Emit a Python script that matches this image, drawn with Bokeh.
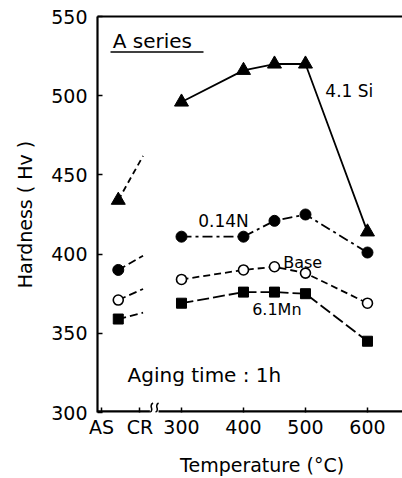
from bokeh.plotting import figure
from bokeh.models import Range1d, FixedTicker, LinearAxis, Label
from bokeh.embed import file_html
from bokeh.resources import INLINE

# ---- data ----
temps = [300, 400, 450, 500, 600]
as_x = 198          # position of the "AS" (as-solution) state on the x scale
stub_x = 238        # where the AS -> CR trend stubs end
break_x = 256

si = [496, 516, 520, 520, 414]
si_as = 434
si_cr = 462

n = [411, 411, 421, 425, 401]
n_as = 390
n_cr = 399

base = [384, 390, 392, 388, 369]
base_as = 371
base_cr = 378

mn = [369, 376, 376, 375, 345]
mn_as = 359
mn_cr = 363

tick_pos = [171, 233, 300, 400, 500, 600]
tick_lab = {171: "AS", 233: "CR"}

X0, X1, Y0, Y1 = 164.5, 656.5, 300, 550
FONT = "DejaVu Sans"

p = figure(width=402, height=478, output_backend="svg", toolbar_location=None,
           x_range=Range1d(X0, X1), y_range=Range1d(Y0, Y1),
           min_border_left=97, min_border_right=0, min_border_top=16,
           min_border_bottom=60)
p.outline_line_color = None
p.grid.grid_line_color = None
p.background_fill_color = "white"

# axes
for ax in (p.xaxis[0], p.yaxis[0]):
    ax.axis_line_width = 2.2
    ax.axis_line_color = "black"
    ax.major_tick_in = 5
    ax.major_tick_out = 0
    ax.major_tick_line_width = 1.5
    ax.minor_tick_line_color = None
    ax.major_label_text_font = FONT
    ax.major_label_text_font_size = "19px"
    ax.major_label_text_color = "black"
    ax.axis_label_text_font = FONT
    ax.axis_label_text_font_size = "19px"
    ax.axis_label_text_font_style = "normal"
    ax.axis_label_text_color = "black"

p.xaxis.ticker = FixedTicker(ticks=tick_pos)
p.xaxis.major_label_overrides = tick_lab
p.xaxis.major_label_standoff = 3
p.xaxis.axis_label = "\u00a0\u00a0\u00a0\u00a0Temperature (°C)"
p.xaxis.axis_label_standoff = 13
p.xaxis.axis_line_color = None   # drawn below with a break

p.yaxis.ticker = FixedTicker(ticks=[300, 350, 400, 450, 500, 550])
p.yaxis.major_label_standoff = 10
p.yaxis.axis_label = "Hardness ( Hv )"
p.yaxis.axis_label_standoff = 12

top = LinearAxis(major_tick_in=0, major_tick_out=0, minor_tick_in=0, minor_tick_out=0,
                 major_label_text_font_size="0px", axis_line_width=2.2,
                 ticker=FixedTicker(ticks=[]))
p.add_layout(top, "above")

# broken x axis line (frame-clipped, so doubled width)
p.segment(x0=[X0, break_x + 7], y0=[Y0, Y0], x1=[break_x - 7, X1], y1=[Y0, Y0],
          line_color="black", line_width=4.4)
# break squiggles
dx = 4.5
p.bezier(x0=[break_x - dx - 2.5, break_x + dx - 2.5], y0=[Y0, Y0],
         x1=[break_x - dx + 2.5, break_x + dx + 2.5], y1=[Y0 + 6, Y0 + 6],
         cx0=[break_x - dx + 6, break_x + dx + 6], cy0=[Y0 + 2, Y0 + 2],
         cx1=[break_x - dx - 6, break_x + dx - 6], cy1=[Y0 + 4, Y0 + 4],
         line_color="black", line_width=1.5)

lw = 1.8
# main lines
p.line(temps, si, line_color="black", line_width=lw)
p.line(temps, n, line_color="black", line_width=lw, line_dash="10 4 3 4")
p.line(temps, base, line_color="black", line_width=lw, line_dash="7 4")
p.line(temps, mn, line_color="black", line_width=lw, line_dash="12 4")

# AS stubs
p.line([as_x, stub_x], [si_as, si_cr], line_color="black", line_width=lw, line_dash="6 4")
p.line([as_x, stub_x], [n_as, n_cr], line_color="black", line_width=lw, line_dash="8 4")
p.line([as_x, stub_x], [base_as, base_cr], line_color="black", line_width=lw, line_dash="8 4")
p.line([as_x, stub_x], [mn_as, mn_cr], line_color="black", line_width=lw, line_dash="8 4")

# markers
p.scatter([as_x] + temps, [si_as] + si, marker="triangle", size=14,
          fill_color="black", line_color="black")
p.scatter([as_x] + temps, [n_as] + n, marker="circle", size=11,
          fill_color="black", line_color="black")
p.scatter([as_x] + temps, [base_as] + base, marker="circle", size=10,
          fill_color="white", line_color="black", line_width=1.6)
p.scatter([as_x] + temps, [mn_as] + mn, marker="square", size=10,
          fill_color="black", line_color="black")

# annotations
def lab(x, y, t, size):
    p.add_layout(Label(x=x, y=y, text=t, text_font=FONT, text_font_size=size,
                       text_baseline="middle", text_color="black"))

lab(189, 534.4, "A series", "20px")
p.line([185.5, 335.5], [527.6, 527.6], line_color="black", line_width=1.5)
lab(532, 502.7, "4.1 Si", "17px")
lab(327, 420.6, "0.14N", "17px")
lab(464, 395, "Base", "16px")
lab(414, 365.3, "6.1Mn", "16px")
lab(213, 323.6, "Aging time : 1h", "20px")

open("out.html", "w").write(file_html(p, INLINE))
